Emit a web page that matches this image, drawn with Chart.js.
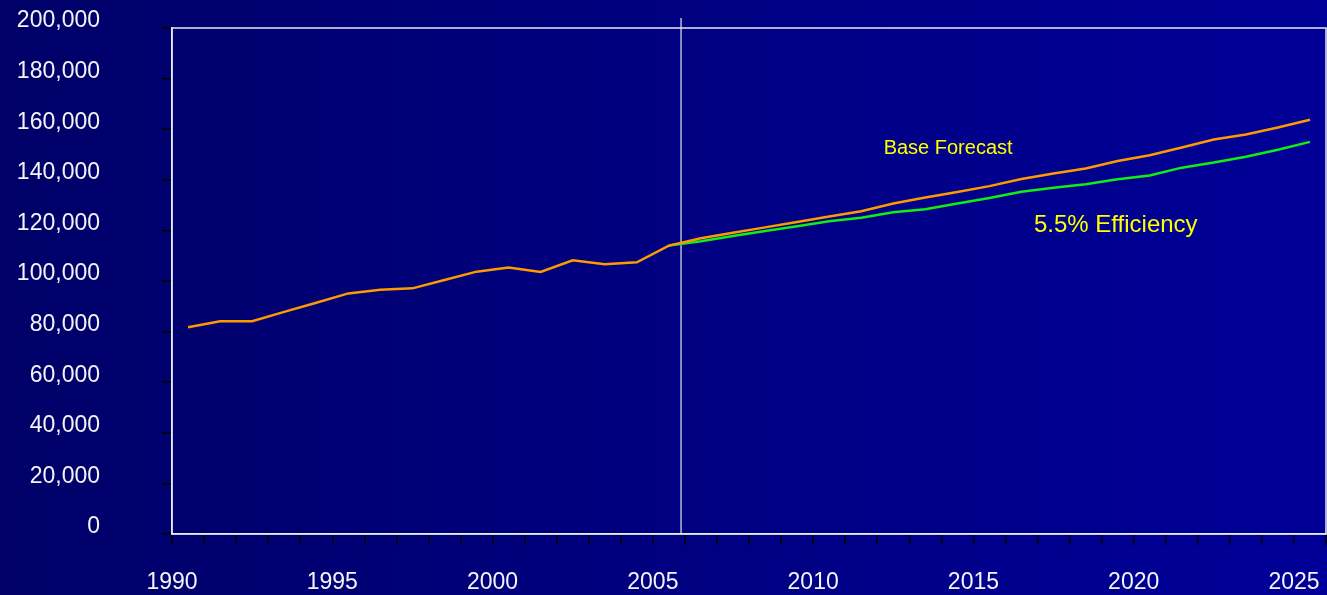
<!DOCTYPE html>
<html>
<head>
<meta charset="utf-8">
<script src="https://cdn.jsdelivr.net/npm/chart.js"></script>
<style>
  html, body { margin: 0; padding: 0; }
  .wrapper {
    width: 1327px;
    height: 595px;
    background: linear-gradient(to right, #000068, #000098);
  }
</style>
</head>
<body>
<div class="wrapper">
  <canvas id="forecastChart" width="1327" height="595"></canvas>
</div>
<script>
// Kategoriler (yıllar)
const years = [1990, 1991, 1992, 1993, 1994, 1995, 1996, 1997, 1998, 1999,
               2000, 2001, 2002, 2003, 2004, 2005, 2006, 2007, 2008, 2009,
               2010, 2011, 2012, 2013, 2014, 2015, 2016, 2017, 2018, 2019,
               2020, 2021, 2022, 2023, 2024, 2025];

// Alt eksende yazısı görünen yıllar
const labeledYears = [1990, 1995, 2000, 2005, 2010, 2015, 2020, 2025];

// Y ekseni tick değerleri
const yTicks = [0, 20000, 40000, 60000, 80000, 100000, 120000, 140000, 160000, 180000, 200000];

// Geçmiş + temel tahmin (turuncu)
const baseForecast = [81700, 84100, 84100, 87800, 91400, 95100, 96500, 97100, 100400, 103700,
                      105300, 103600, 108200, 106600, 107400, 114000, 116900, 119100, 121200, 123300,
                      125500, 127600, 130600, 133000, 135200, 137500, 140300, 142500, 144500, 147400,
                      149700, 152800, 155900, 157900, 160700, 163700];

// %5.5 verimlilik senaryosu (yeşil), 2005'ten başlıyor
const efficiency = [null, null, null, null, null, null, null, null, null, null,
                    null, null, null, null, null, 114000, 115700, 117800, 119800, 121600,
                    123600, 125000, 127200, 128400, 130600, 132800, 135300, 136900, 138200, 140200,
                    141700, 144800, 146800, 149100, 151900, 155000];

// Grafik üstündeki yazılar (konum veri biriminde: kategori indeksi, değer)
const notes = [
  { text: 'Base Forecast',   at: 21.7,  value: 152400, size: 20 },
  { text: '5.5% Efficiency', at: 26.39, value: 122150, size: 24 }
];

// Tahmin başlangıcını gösteren dikey çizgi (kategori indeksi)
const dividerAt = 15.38;

const FONT = "'Liberation Sans', Arial, sans-serif";

// Çerçeve, dikey çizgi ve notlar için küçük eklenti
const decorPlugin = {
  id: 'decor',
  beforeDatasetsDraw(chart) {
    const { ctx, chartArea, scales } = chart;
    const x = scales.x.getPixelForValue(dividerAt);
    ctx.save();
    ctx.strokeStyle = '#e8e8f0';
    ctx.lineWidth = 1.2;
    ctx.beginPath();
    ctx.moveTo(x, chartArea.top - 10);
    ctx.lineTo(x, chartArea.bottom);
    ctx.stroke();
    ctx.restore();
  },
  afterDraw(chart) {
    const { ctx, chartArea, scales } = chart;
    ctx.save();
    // Üst ve sağ kenar
    ctx.strokeStyle = '#e8e8f0';
    ctx.lineWidth = 1.5;
    ctx.strokeRect(chartArea.left, chartArea.top, chartArea.right - chartArea.left, chartArea.bottom - chartArea.top);

    ctx.fillStyle = '#ffff00';
    ctx.textAlign = 'left';
    ctx.textBaseline = 'middle';
    notes.forEach(n => {
      ctx.font = `${n.size}px ${FONT}`;
      ctx.fillText(n.text, scales.x.getPixelForValue(n.at), scales.y.getPixelForValue(n.value));
    });
    ctx.restore();
  }
};

document.addEventListener("DOMContentLoaded", () => {
  const ctx = document.getElementById('forecastChart').getContext('2d');

  new Chart(ctx, {
    type: 'line',
    data: {
      labels: years,
      datasets: [
        {
          label: 'Base Forecast',
          data: baseForecast,
          borderColor: '#ff9900',
          borderWidth: 2.5,
          pointRadius: 0,
          tension: 0,
          fill: false
        },
        {
          label: '5.5% Efficiency',
          data: efficiency,
          borderColor: '#11ee11',
          borderWidth: 2.5,
          pointRadius: 0,
          tension: 0,
          fill: false,
          spanGaps: false
        }
      ]
    },
    options: {
      responsive: false,
      animation: false,
      layout: { padding: { top: 28, right: 1, left: 0, bottom: 0 } },
      plugins: {
        legend: { display: false },
        tooltip: { enabled: false }
      },
      scales: {
        x: {
          type: 'category',
          offset: true,
          grid: {
            offset: true,
            drawOnChartArea: false,
            drawTicks: true,
            tickLength: 11,
            color: '#000000',
            lineWidth: 1.5
          },
          border: { color: '#e8e8f0', width: 1.5 },
          ticks: {
            autoSkip: false,
            maxRotation: 0,
            minRotation: 0,
            padding: 24,
            labelOffset: -16,
            color: '#f4f4f8',
            font: { family: FONT, size: 23 },
            callback: (val, i) => labeledYears.includes(years[i]) ? String(years[i]) : ''
          },
          afterFit: (scale) => {
            scale.height = 61;
            scale.paddingLeft = 0;
            scale.paddingRight = 0;
          }
        },
        y: {
          min: yTicks[0],
          max: yTicks[yTicks.length - 1],
          afterBuildTicks: (scale) => {
            scale.ticks = yTicks.map(v => ({ value: v }));
          },
          grid: {
            drawOnChartArea: false,
            drawTicks: true,
            tickLength: 10,
            color: '#000000',
            lineWidth: 1.5
          },
          border: { color: '#e8e8f0', width: 1.5 },
          ticks: {
            padding: 62,
            labelOffset: -7,
            color: '#f4f4f8',
            font: { family: FONT, size: 23 },
            callback: (v) => Number(v).toLocaleString('en-US')
          },
          afterFit: (scale) => {
            // padding ayarı üst/alt boşluğu da büyütüyor, sıfırla
            scale.width = 172;
            scale.paddingTop = 0;
            scale.paddingBottom = 0;
          }
        }
      }
    },
    plugins: [decorPlugin]
  });
});
</script>
</body>
</html>
